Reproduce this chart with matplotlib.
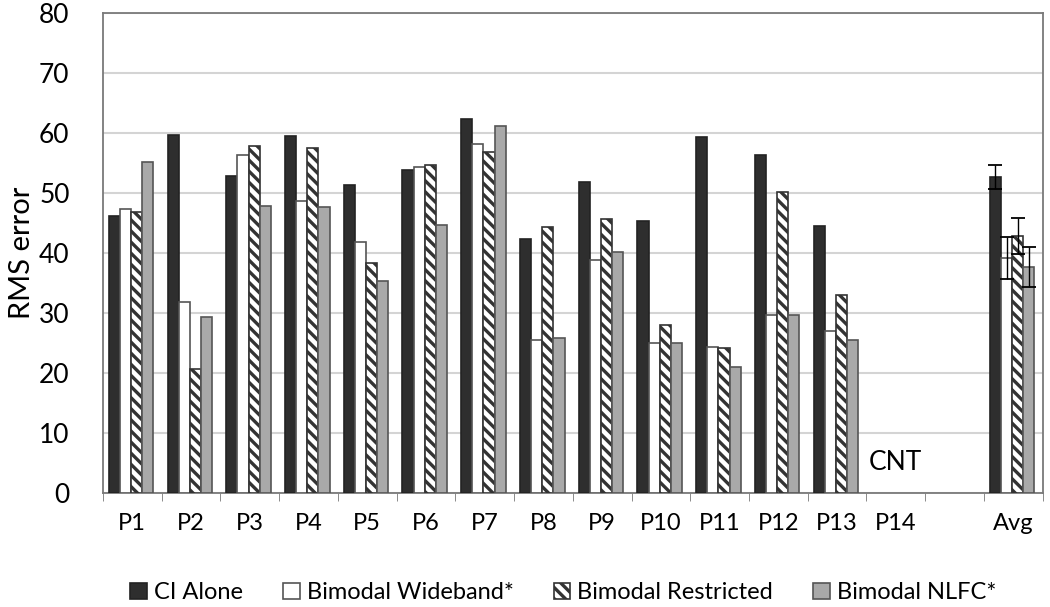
import matplotlib.pyplot as plt
import numpy as np

# categories on the x axis (slot 15 is an empty gap before Avg)
categories = ["P1", "P2", "P3", "P4", "P5", "P6", "P7", "P8", "P9", "P10",
              "P11", "P12", "P13", "P14", "", "Avg"]
series_names = ["CI Alone", "Bimodal Wideband*", "Bimodal Restricted", "Bimodal NLFC*"]

nan = np.nan
ci_alone = [46.1, 59.7, 52.9, 59.5, 51.3, 53.8, 62.4, 42.3, 51.8, 45.4,
            59.3, 56.4, 44.5, nan, nan, 52.6]
wideband = [47.3, 31.9, 56.3, 48.7, 41.8, 54.4, 58.1, 25.5, 38.9, 25.1,
            24.3, 29.7, 27.1, nan, nan, 39.2]
restricted = [46.9, 20.7, 57.9, 57.5, 38.3, 54.7, 56.8, 44.4, 45.7, 28.0,
              24.2, 50.2, 33.1, nan, nan, 42.9]
nlfc = [55.2, 29.3, 47.9, 47.6, 35.4, 44.7, 61.1, 25.8, 40.2, 25.1,
        21.0, 29.7, 25.6, nan, nan, 37.7]
avg_err = [2.0, 3.5, 3.0, 3.4]

plt.rcParams['font.family'] = ['Lato', 'DejaVu Sans']
plt.rcParams['hatch.linewidth'] = 2.4

fig = plt.figure(figsize=(10.5, 6.07), dpi=100)
ax = fig.add_axes([0.098, 0.187, 0.895, 0.792])

x = np.arange(len(categories))
width = 0.19
styles = [
    dict(color="#2e2e2e", edgecolor="#222222"),
    dict(color="white", edgecolor="#555555"),
    dict(color="white", edgecolor="#333333", hatch="\\\\\\"),
    dict(color="#a9a9a9", edgecolor="#555555"),
]
all_series = [ci_alone, wideband, restricted, nlfc]

for i, (vals, name, st) in enumerate(zip(all_series, series_names, styles)):
    pos = x + (i - 1.5) * width - 0.02
    ax.bar(pos, vals, width, label=name, linewidth=1.2, zorder=3, **st)
    # error bar only on the Avg group
    ax.errorbar(pos[-1], vals[-1], yerr=avg_err[i], fmt="none", ecolor="black",
                elinewidth=1.0, capsize=5, capthick=1.3, zorder=4)

ax.text(13, 5.2, "CNT", fontsize=19, ha="center", va="center", zorder=5)

ax.set_ylim(0, 80)
ax.set_xlim(-0.5, len(categories) - 0.5)
ax.set_yticks(np.arange(0, 81, 10))
ax.tick_params(axis="y", length=0, labelsize=19, pad=24)
ax.set_xticks(x)
ax.set_xticklabels(categories)
ax.tick_params(axis="x", which="major", length=0, labelsize=17, pad=14)
ax.set_xticks(np.arange(-0.5, len(categories), 1), minor=True)
ax.tick_params(axis="x", which="minor", length=6, color="#777777", direction="out")
ax.set_ylabel("RMS error", fontsize=21)
ax.yaxis.set_label_coords(-0.072, 0.5)

ax.grid(axis="y", color="#d4d4d4", linewidth=1.5, zorder=0)
ax.set_axisbelow(True)
for sp in ax.spines.values():
    sp.set_color("#7a7a7a")
    sp.set_linewidth(1.3)

ax.legend(loc="upper center", bbox_to_anchor=(0.49, -0.14), ncol=4, frameon=False,
          fontsize=17, handlelength=0.7, handleheight=0.7, handletextpad=0.3,
          columnspacing=1.7)

fig.savefig("out.png", dpi=100)
